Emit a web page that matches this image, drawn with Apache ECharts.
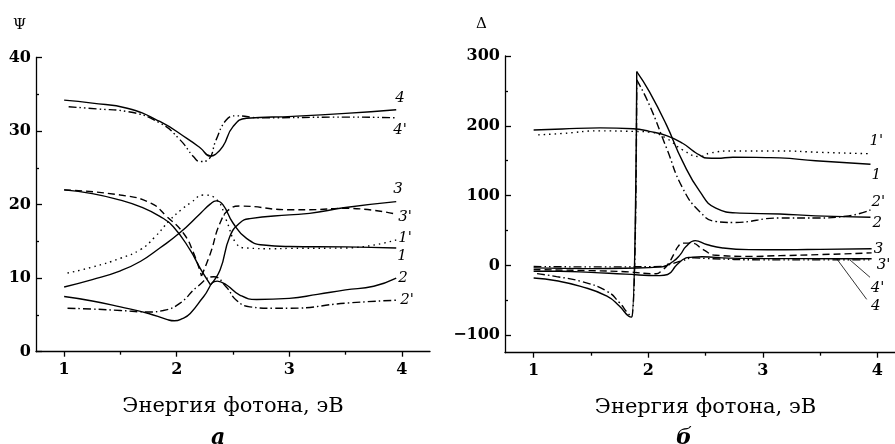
<!DOCTYPE html>
<html>
<head>
<meta charset="utf-8">
<script src="https://cdn.jsdelivr.net/npm/echarts@6/dist/echarts.min.js"></script>
<style>
  html, body { margin: 0; padding: 0; background: #fff; }
  #chart { width: 895px; height: 444px; }
</style>
</head>
<body>
<div id="chart"></div>
<script>
// x ticks (photon energy, eV)
const xMain = [1, 2, 3, 4];
const xMinor = [1.5, 2.5, 3.5];
const psiTicks = [0, 10, 20, 30, 40];
const psiMinor = [5, 15, 25, 35];
const deltaTicks = [-100, 0, 100, 200, 300];
const deltaMinor = [-50, 50, 150, 250];

// panel a: Psi
const psi1 = [[1, 8.8], [1.25, 9.8], [1.5, 11.0], [1.68, 12.3], [1.85, 14.1], [2.03, 16.2], [2.21, 18.8], [2.3, 20.1], [2.35, 20.5], [2.41, 20.0], [2.5, 17.5], [2.62, 15.4], [2.77, 14.5], [3.0, 14.3], [3.5, 14.25], [3.95, 14.1]];
const psi1p = [[1.03, 10.7], [1.25, 11.5], [1.5, 12.7], [1.68, 13.9], [1.8, 15.5], [1.94, 17.9], [2.04, 19.3], [2.12, 20.2], [2.24, 21.3], [2.36, 20.6], [2.44, 17.9], [2.53, 14.7], [2.62, 14.1], [2.86, 14.0], [3.0, 14.05], [3.5, 14.1], [3.95, 15.2]];
const psi2 = [[1, 7.5], [1.25, 6.9], [1.5, 6.1], [1.75, 5.2], [1.91, 4.4], [1.98, 4.2], [2.05, 4.5], [2.12, 5.2], [2.24, 7.5], [2.36, 9.6], [2.44, 9.1], [2.56, 7.7], [2.71, 7.1], [3.0, 7.25], [3.25, 7.8], [3.5, 8.4], [3.75, 8.9], [3.95, 10.0]];
const psi2p = [[1.03, 5.9], [1.25, 5.8], [1.5, 5.6], [1.75, 5.4], [1.88, 5.6], [2.03, 6.6], [2.18, 8.8], [2.33, 10.2], [2.44, 8.8], [2.53, 7.0], [2.65, 6.1], [2.86, 5.9], [3.0, 5.9], [3.5, 6.6], [3.95, 7.0]];
const psi3 = [[1, 22.0], [1.25, 21.5], [1.5, 20.6], [1.68, 19.7], [1.85, 18.4], [1.97, 17.0], [2.12, 13.8], [2.21, 11.3], [2.3, 9.1], [2.385, 11.1], [2.47, 15.6], [2.56, 17.5], [2.65, 18.1], [3.0, 18.6], [3.18, 18.8], [3.5, 19.6], [3.95, 20.4]];
const psi3p = [[1, 22.0], [1.5, 21.3], [1.77, 20.2], [1.91, 18.4], [2.06, 16.1], [2.15, 13.4], [2.22, 10.3], [2.3, 13.4], [2.385, 17.5], [2.47, 19.4], [2.56, 19.8], [3.0, 19.3], [3.18, 19.3], [3.5, 19.5], [3.95, 18.7]];
const psi4 = [[1, 34.2], [1.25, 33.8], [1.56, 33.1], [1.85, 31.3], [2.09, 29.0], [2.21, 27.7], [2.3, 26.6], [2.34, 26.8], [2.41, 27.9], [2.5, 30.6], [2.62, 31.75], [3.03, 32.0], [3.5, 32.4], [3.95, 32.9]];
const psi4p = [[1.04, 33.3], [1.3, 33.0], [1.56, 32.65], [1.85, 31.1], [2.03, 28.8], [2.15, 26.5], [2.21, 25.85], [2.28, 26.1], [2.35, 28.8], [2.44, 31.5], [2.53, 32.07], [2.74, 31.8], [3.5, 31.9], [3.95, 31.8]];

// panel b: Delta
const d1 = [[1, 194], [1.25, 195.5], [1.58, 197], [1.87, 195.7], [2.01, 192], [2.16, 186], [2.3, 175], [2.4, 163], [2.45, 158], [2.51, 153.8], [2.6, 153.5], [2.74, 155], [3.03, 154.5], [3.15, 154], [3.46, 150], [3.94, 145]];
const d1p = [[1.04, 187], [1.25, 189], [1.58, 192.8], [1.87, 192], [2.01, 191], [2.16, 182], [2.3, 165.6], [2.45, 156], [2.54, 161], [2.74, 164], [3.15, 164], [3.5, 162], [3.94, 160]];
const d2 = [[1, -18], [1.2, -22], [1.41, -30], [1.64, -44], [1.75, -58.5], [1.83, -72.8], [1.855, -74], [1.9, 277.7], [2.01, 249], [2.16, 201], [2.3, 149], [2.45, 106], [2.59, 82], [2.8, 75], [3.15, 73.7], [3.46, 71], [3.94, 69]];
const d2p = [[1.03, -11.7], [1.2, -16], [1.41, -22.7], [1.64, -37], [1.75, -53.6], [1.82, -68], [1.855, -74], [1.9, 265.8], [2.01, 230], [2.16, 168], [2.3, 111], [2.45, 77], [2.59, 63], [2.74, 61.5], [3.15, 68], [3.46, 68], [3.75, 71], [3.94, 79.6]];
const d3 = [[1, -3.5], [1.5, -4.6], [1.8, -4], [2.12, -2], [2.22, 6], [2.28, 15.5], [2.33, 27], [2.41, 35.5], [2.51, 30], [2.65, 25], [2.88, 22.6], [3.2, 22.5], [3.5, 23], [3.95, 24]];
const d3p = [[1, -6], [1.5, -7.5], [1.8, -9], [2.07, -12], [2.12, -7], [2.17, 1], [2.23, 18], [2.26, 27], [2.3, 32], [2.38, 32], [2.48, 22.6], [2.59, 14.5], [2.88, 13], [3.15, 14], [3.5, 15.5], [3.95, 18]];
const d4 = [[1, -8.4], [1.23, -8.4], [1.5, -10], [1.8, -12.5], [2.1, -14.6], [2.17, -13], [2.25, 1], [2.33, 10.7], [2.36, 11.6], [2.47, 12.5], [2.7, 10.5], [3.0, 10], [3.65, 9.6], [3.95, 9.5]];
const d4p = [[1, -1.5], [1.5, -2.1], [2.12, -1.5], [2.2, 2], [2.3, 7], [2.4, 11], [2.5, 10], [3.0, 8], [3.5, 8], [3.76, 8], [3.95, 8]];

const FONT = 'DejaVu Serif';
const dash = {
  solid: 'solid',
  dashed: [7, 4],
  dotted: [1.5, 4],
  dashDot: [8, 3, 1.5, 3],
  dashDotDot: [8, 3, 1.5, 3, 1.5, 3]
};
const labelFont = { fontFamily: FONT, fontStyle: 'italic', fontSize: 15, color: '#000' };

function line(data, grid, type, text, offset) {
  return {
    type: 'line',
    data: data,
    xAxisIndex: grid * 2,
    yAxisIndex: grid * 2,
    smooth: 0.5,
    symbol: 'none',
    silent: true,
    lineStyle: { color: '#000', width: 1.4, type: dash[type] },
    endLabel: Object.assign({ show: !!text, formatter: text, offset: offset }, labelFont)
  };
}

// leader line from a point on the curve to its label (panel b, curves 4 and 4')
function leader(series, text, from, to, offset) {
  series.markLine = {
    silent: true,
    symbol: ['none', 'none'],
    lineStyle: { color: '#000', width: 0.8, type: 'solid' },
    label: Object.assign({ show: true, position: 'end', distance: 2, formatter: text, offset: offset }, labelFont),
    data: [[{ coord: from }, { coord: to }]]
  };
  return series;
}

function mainX(grid) {
  return {
    type: 'value', gridIndex: grid, min: 0.75, max: 4.25, position: 'bottom',
    name: 'Энергия фотона, эВ', nameLocation: 'middle', nameGap: 44,
    nameTextStyle: { fontFamily: FONT, fontSize: 21, color: '#000' },
    axisLine: { onZero: false, lineStyle: { color: '#000', width: 1.3 } },
    axisTick: { customValues: xMain, length: 5, lineStyle: { color: '#000', width: 1.3 } },
    axisLabel: { customValues: xMain, margin: 10, fontFamily: FONT, fontWeight: 'bold', fontSize: 16, color: '#000' },
    splitLine: { show: false }
  };
}
function minorX(grid) {
  return {
    type: 'value', gridIndex: grid, min: 0.75, max: 4.25, position: 'bottom',
    axisLine: { show: false, onZero: false },
    axisTick: { customValues: xMinor, length: 3, lineStyle: { color: '#000', width: 1.3 } },
    axisLabel: { show: false }, splitLine: { show: false }
  };
}
function mainY(grid, min, max, ticks, fmt) {
  return {
    type: 'value', gridIndex: grid, min: min, max: max, position: 'left',
    axisLine: { show: true, onZero: false, lineStyle: { color: '#000', width: 1.3 } },
    axisTick: { show: true, inside: true, customValues: ticks, length: 6, lineStyle: { color: '#000', width: 1.3 } },
    axisLabel: { customValues: ticks, margin: 5, fontFamily: FONT, fontWeight: 'bold', fontSize: 16, color: '#000', formatter: fmt },
    splitLine: { show: false }
  };
}
function minorY(grid, min, max, ticks) {
  return {
    type: 'value', gridIndex: grid, min: min, max: max, position: 'left',
    axisLine: { show: false, onZero: false },
    axisTick: { show: true, inside: true, customValues: ticks, length: 3, lineStyle: { color: '#000', width: 1.3 } },
    axisLabel: { show: false }, splitLine: { show: false }
  };
}

const chart = echarts.init(document.getElementById('chart'), null, { renderer: 'canvas' });
chart.setOption({
  animation: false,
  backgroundColor: '#fff',
  grid: [
    { left: 36, top: 57.5, width: 394, height: 294.2, outerBoundsMode: 'none' },
    { left: 505, top: 56, width: 401, height: 296.7, outerBoundsMode: 'none' }
  ],
  xAxis: [mainX(0), minorX(0), mainX(1), minorX(1)],
  yAxis: [
    mainY(0, 0, 40, psiTicks, v => String(v)),
    minorY(0, 0, 40, psiMinor),
    mainY(1, -125, 300, deltaTicks, v => String(v).replace('-', '\u2212')),
    minorY(1, -125, 300, deltaMinor)
  ],
  graphic: [
    { type: 'text', left: 13, top: 18, style: { text: 'Ψ', font: '15px "DejaVu Serif"', fill: '#000' } },
    { type: 'text', left: 476, top: 17, style: { text: 'Δ', font: '15px "DejaVu Serif"', fill: '#000' } },
    { type: 'text', left: 211, top: 427, style: { text: 'а', font: 'italic bold 22px "DejaVu Serif"', fill: '#000' } },
    { type: 'text', left: 676, top: 427, style: { text: 'б', font: 'italic bold 22px "DejaVu Serif"', fill: '#000' } }
  ],
  series: [
    line(psi4, 0, 'solid', '4', [-9, -12]),
    line(psi4p, 0, 'dashDotDot', "4'", [-11, 12]),
    line(psi3.slice(0, 9), 0, 'solid', null, [0, 0]),
    line(psi3.slice(8), 0, 'solid', '3', [-11, -13]),
    line(psi3p.slice(0, 7), 0, 'dashed', null, [0, 0]),
    line(psi3p.slice(6), 0, 'dashed', "3'", [-6, 3]),
    line(psi1p, 0, 'dotted', "1'", [-6, -2]),
    line(psi1, 0, 'solid', '1', [-7, 8]),
    line(psi2, 0, 'solid', '2', [-6, 0]),
    line(psi2p, 0, 'dashDot', "2'", [-4, 0]),

    line(d1p, 1, 'dotted', "1'", [-9, -13]),
    line(d1, 1, 'solid', '1', [-7, 11]),
    line(d2p.slice(0, 8), 1, 'dashDot', null, [0, 0]),
    line(d2p.slice(7), 1, 'dashDot', "2'", [-7, -8]),
    line(d2.slice(0, 8), 1, 'solid', null, [0, 0]),
    line(d2.slice(7), 1, 'solid', '2', [-6, 6]),
    line(d3, 1, 'solid', '3', [-6, 0]),
    line(d3p, 1, 'dashed', "3'", [-3, 12]),
    leader(line(d4p, 1, 'dashDotDot', null, [0, 0]), "4'", [3.76, 8], [3.936, -17], [6, 9]),
    leader(line(d4, 1, 'solid', null, [0, 0]), '4', [3.645, 9.6], [3.907, -48.6], [8, -2])
  ]
});
</script>
</body>
</html>
